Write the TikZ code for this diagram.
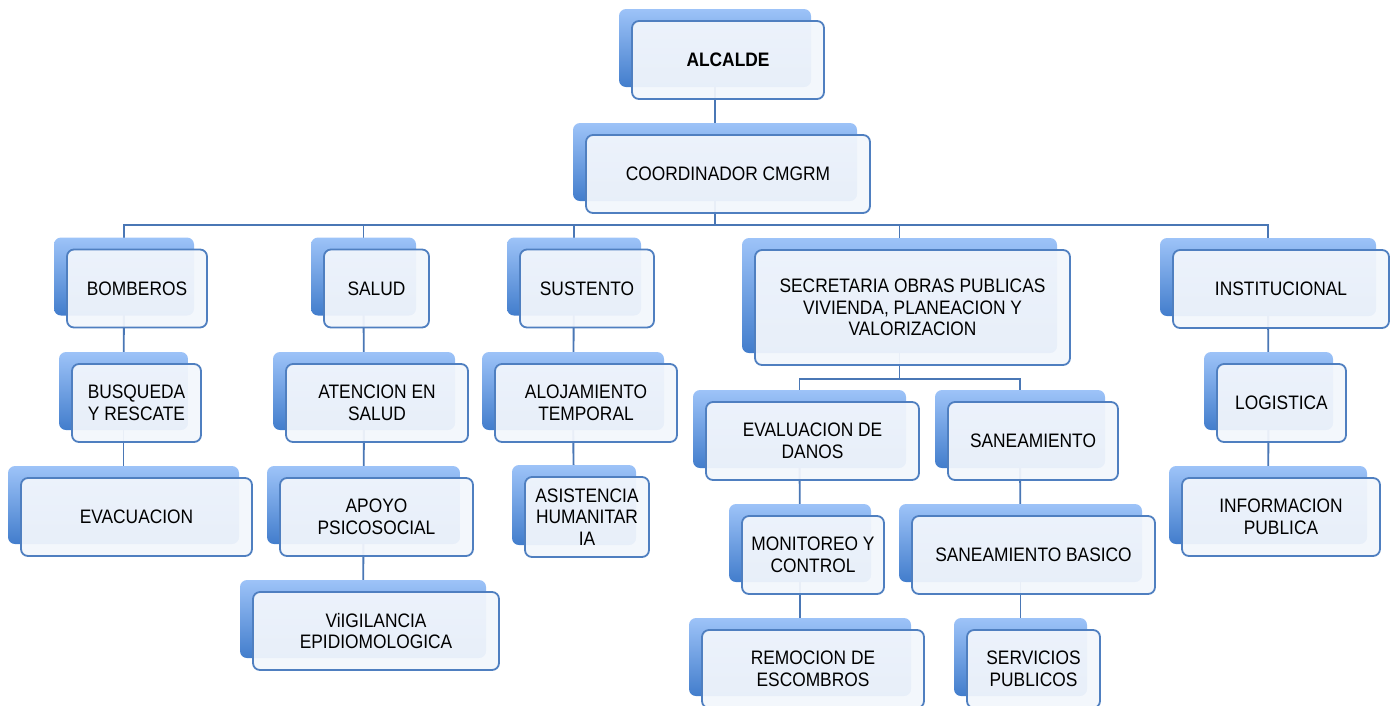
\documentclass[tikz,border=0pt]{standalone}
\usepackage{fontspec}
\setmainfont{Liberation Sans}[FakeStretch=0.89]
\usetikzlibrary{backgrounds}
\definecolor{borde}{HTML}{4F7FC0}
\definecolor{relleno}{HTML}{F2F6FC}
\definecolor{sombraA}{HTML}{9DC3F8}
\definecolor{sombraB}{HTML}{427DCC}
\definecolor{enlace}{HTML}{4A77B5}
\tikzset{
  cargo/.style={
    draw=borde, line width=1.8pt, rounded corners=7pt,
    fill=relleno, fill opacity=0.94, text opacity=1,
    minimum height=78pt, inner sep=2pt, align=center,
    font=\fontsize{19.5}{21.5}\selectfont,
    preaction={draw=none, fill opacity=1, top color=sombraA, bottom color=sombraB,
      transform canvas={shift={(-13pt,12pt)}}},
  },
  linea/.style={draw=enlace, line width=1.9pt},
}

\begin{document}
\begin{tikzpicture}[x=1pt,y=-1pt]
  \useasboundingbox (0,0) rectangle (1396,705);

  % cabeza
  \node[cargo, minimum width=192pt] (alc) at (728,60) {\textbf{ALCALDE}};
  \node[cargo, minimum width=284pt] (coord) at (728,174) {COORDINADOR CMGRM};

  % primer nivel
  \node[cargo, minimum width=140pt] (bomb) at (137,288.5) {BOMBEROS};
  \node[cargo, minimum width=105pt] (salud) at (376.5,288.5) {SALUD};
  \node[cargo, minimum width=134pt] (sust) at (587,288.5) {SUSTENTO};
  \node[cargo, minimum width=315pt, minimum height=115pt] (secr) at (912.5,307.5)
    {SECRETARIA OBRAS PUBLICAS\\VIVIENDA, PLANEACION Y\\VALORIZACION};
  \node[cargo, minimum width=216pt] (inst) at (1281,289) {INSTITUCIONAL};

  % segundo nivel
  \node[cargo, minimum width=129pt] (busq) at (136.5,403) {BUSQUEDA\\Y RESCATE};
  \node[cargo, minimum width=182pt] (aten) at (377,403) {ATENCION EN\\SALUD};
  \node[cargo, minimum width=182pt] (aloj) at (586,403) {ALOJAMIENTO\\TEMPORAL};
  \node[cargo, minimum width=129pt] (logi) at (1281.5,403) {LOGISTICA};
  \node[cargo, minimum width=213pt] (eval) at (812.5,441) {EVALUACION DE\\DANOS};
  \node[cargo, minimum width=170pt] (sane) at (1033,441) {SANEAMIENTO};

  % tercer nivel
  \node[cargo, minimum width=231pt] (evac) at (136.5,517) {EVACUACION};
  \node[cargo, minimum width=193pt] (apoyo) at (376.5,517) {APOYO\\PSICOSOCIAL};
  \node[cargo, minimum width=124pt, minimum height=80pt] (asis) at (587,517) {ASISTENCIA\\HUMANITAR\\IA};
  \node[cargo, minimum width=198pt] (info) at (1281,517) {INFORMACION\\PUBLICA};
  \node[cargo, minimum width=142pt] (monit) at (813,555) {MONITOREO Y\\CONTROL};
  \node[cargo, minimum width=243pt] (saneb) at (1033.5,555) {SANEAMIENTO BASICO};

  % cuarto nivel
  \node[cargo, minimum width=246pt] (vigi) at (376,631) {ViIGILANCIA\\EPIDIOMOLOGICA};
  \node[cargo, minimum width=222pt] (remo) at (813,669) {REMOCION DE\\ESCOMBROS};
  \node[cargo, minimum width=133pt] (serv) at (1033.5,669) {SERVICIOS\\PUBLICOS};

  % conectores
  \begin{scope}[on background layer]
    \draw[linea] ([xshift=-13pt]alc.center) -- ([xshift=-13pt]coord.center);
    \foreach \hijo in {bomb,salud,sust,secr,inst}
      \draw[linea] ([xshift=-13pt]coord.center) -- ([xshift=-13pt]coord.south)
        -- ++(0,11) -| ([xshift=-13pt]\hijo.center);
    \foreach \hijo in {eval,sane}
      \draw[linea] ([xshift=-13pt]secr.center) -- ([xshift=-13pt]secr.south)
        -- ++(0,13) -| ([xshift=-13pt]\hijo.center);
    \foreach \a/\b in {bomb/busq,busq/evac,salud/aten,aten/apoyo,apoyo/vigi,
                       sust/aloj,aloj/asis,inst/logi,logi/info,
                       eval/monit,monit/remo,sane/saneb,saneb/serv}
      \draw[linea] ([xshift=-13pt]\a.center) -- ([xshift=-13pt]\b.center);
  \end{scope}
\end{tikzpicture}
\end{document}
